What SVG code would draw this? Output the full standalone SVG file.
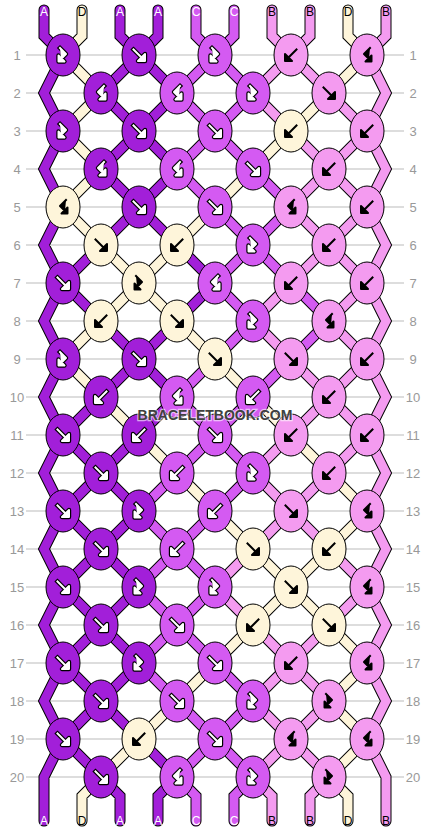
<svg xmlns="http://www.w3.org/2000/svg" xmlns:xlink="http://www.w3.org/1999/xlink" width="430" height="832" viewBox="0 0 430 832">
<style>
.sA{stroke:#a21fd9}.sB{stroke:#f49bf0}.sC{stroke:#d45af2}.sD{stroke:#fef5da}
#bands path{fill:none;stroke-width:9;stroke-linecap:round;stroke-linejoin:miter}
.outl{fill:none;stroke:#000;stroke-width:11;stroke-linecap:round;stroke-linejoin:miter}
ellipse{stroke:#000;stroke-width:1}
.kA{fill:#a21fd9}.kB{fill:#f49bf0}.kC{fill:#d45af2}.kD{fill:#fef5da}
.num{font-family:"Liberation Sans",Arial,sans-serif;font-size:13px;fill:#999;text-anchor:middle}
.lab{font-family:"Liberation Sans",Arial,sans-serif;font-size:12px;text-anchor:middle}
.lw{fill:#fff}.lk{fill:#000}
</style>
<defs>
<path id="f" d="M-5.5-5.5L2.5 2.5M6 6V-1L-1 6Z" stroke-linejoin="round" stroke-linecap="square"/>
<path id="b" d="M5.5-5.5L-2.5 2.5M-6 6V-1L1 6Z" stroke-linejoin="round" stroke-linecap="square"/>
<path id="fb" d="M-3-7L3-1L-2 4M-4.5 6.5V0.5L1.5 6.5Z" stroke-linejoin="round" stroke-linecap="square" fill-rule="nonzero"/>
<path id="bf" d="M3-7L-3-1L2 4M4.5 6.5V0.5L-1.5 6.5Z" stroke-linejoin="round" stroke-linecap="square"/>
<g id="fW"><use href="#f" fill="#000" stroke="#000" stroke-width="4.4"/><use href="#f" fill="#fff" stroke="#fff" stroke-width="2"/></g>
<g id="bW"><use href="#b" fill="#000" stroke="#000" stroke-width="4.4"/><use href="#b" fill="#fff" stroke="#fff" stroke-width="2"/></g>
<g id="fbW"><use href="#fb" fill="#000" stroke="#000" stroke-width="4.4"/><use href="#fb" fill="#fff" stroke="#fff" stroke-width="2"/></g>
<g id="bfW"><use href="#bf" fill="#000" stroke="#000" stroke-width="4.4"/><use href="#bf" fill="#fff" stroke="#fff" stroke-width="2"/></g>
<g id="fK"><use href="#f" fill="#000" stroke="#000" stroke-width="2"/></g>
<g id="bK"><use href="#b" fill="#000" stroke="#000" stroke-width="2"/></g>
<g id="fbK"><use href="#fb" fill="#000" stroke="#000" stroke-width="2"/></g>
<g id="bfK"><use href="#bf" fill="#000" stroke="#000" stroke-width="2"/></g>
</defs>
<rect width="430" height="832" fill="#fff"/>
<g id="grid" stroke="#bbb" stroke-width="1">
<path d="M26 55H404M26 93H404M26 131H404M26 169H404M26 207H404M26 245H404M26 283H404M26 321H404M26 359H404M26 397H404M26 435H404M26 473H404M26 511H404M26 549H404M26 587H404M26 625H404M26 663H404M26 701H404M26 739H404M26 777H404"/>
</g>
<g id="rownums" class="num">
<text x="17" y="59.5">1</text><text x="413" y="59.5">1</text>
<text x="17" y="97.5">2</text><text x="413" y="97.5">2</text>
<text x="17" y="135.5">3</text><text x="413" y="135.5">3</text>
<text x="17" y="173.5">4</text><text x="413" y="173.5">4</text>
<text x="17" y="211.5">5</text><text x="413" y="211.5">5</text>
<text x="17" y="249.5">6</text><text x="413" y="249.5">6</text>
<text x="17" y="287.5">7</text><text x="413" y="287.5">7</text>
<text x="17" y="325.5">8</text><text x="413" y="325.5">8</text>
<text x="17" y="363.5">9</text><text x="413" y="363.5">9</text>
<text x="17" y="401.5">10</text><text x="413" y="401.5">10</text>
<text x="17" y="439.5">11</text><text x="413" y="439.5">11</text>
<text x="17" y="477.5">12</text><text x="413" y="477.5">12</text>
<text x="17" y="515.5">13</text><text x="413" y="515.5">13</text>
<text x="17" y="553.5">14</text><text x="413" y="553.5">14</text>
<text x="17" y="591.5">15</text><text x="413" y="591.5">15</text>
<text x="17" y="629.5">16</text><text x="413" y="629.5">16</text>
<text x="17" y="667.5">17</text><text x="413" y="667.5">17</text>
<text x="17" y="705.5">18</text><text x="413" y="705.5">18</text>
<text x="17" y="743.5">19</text><text x="413" y="743.5">19</text>
<text x="17" y="781.5">20</text><text x="413" y="781.5">20</text>
</g>
<g id="connectors">
<path class="outl" d="M44 10V36L63 55L44 93L63 131L44 169L63 207L44 245L63 283L44 321L63 359L44 397L63 435L44 473L63 511L44 549L63 587L44 625L63 663L44 701L63 739L44 777V821M386 10V36L367 55L386 93L367 131L386 169L367 207L386 245L367 283L386 321L367 359L386 397L367 435L386 473L367 511L386 549L367 587L386 625L367 663L386 701L367 739L386 777V821M82 10V36L63 55M120 10V36L139 55M158 10V36L139 55M196 10V36L215 55M234 10V36L215 55M272 10V36L291 55M310 10V36L291 55M348 10V36L367 55M101 777L82 796V821M101 777L120 796V821M177 777L158 796V821M177 777L196 796V821M253 777L234 796V821M253 777L272 796V821M329 777L310 796V821M329 777L348 796V821M63 55L101 93L63 131L101 169L63 207L101 245L63 283L101 321L63 359L101 397L63 435L101 473L63 511L101 549L63 587L101 625L63 663L101 701L63 739L101 777M139 55L101 93L139 131L101 169L139 207L101 245L139 283L101 321L139 359L101 397L139 435L101 473L139 511L101 549L139 587L101 625L139 663L101 701L139 739L101 777M139 55L177 93L139 131L177 169L139 207L177 245L139 283L177 321L139 359L177 397L139 435L177 473L139 511L177 549L139 587L177 625L139 663L177 701L139 739L177 777M215 55L177 93L215 131L177 169L215 207L177 245L215 283L177 321L215 359L177 397L215 435L177 473L215 511L177 549L215 587L177 625L215 663L177 701L215 739L177 777M215 55L253 93L215 131L253 169L215 207L253 245L215 283L253 321L215 359L253 397L215 435L253 473L215 511L253 549L215 587L253 625L215 663L253 701L215 739L253 777M291 55L253 93L291 131L253 169L291 207L253 245L291 283L253 321L291 359L253 397L291 435L253 473L291 511L253 549L291 587L253 625L291 663L253 701L291 739L253 777M291 55L329 93L291 131L329 169L291 207L329 245L291 283L329 321L291 359L329 397L291 435L329 473L291 511L329 549L291 587L329 625L291 663L329 701L291 739L329 777M367 55L329 93L367 131L329 169L367 207L329 245L367 283L329 321L367 359L329 397L367 435L329 473L367 511L329 549L367 587L329 625L367 663L329 701L367 739L329 777"/>
<g id="bands">
<path class="sA" d="M44 10V36L63 55L44 93L63 131L44 169L63 207L44 245L63 283L44 321L63 359L44 397L63 435L44 473L63 511L44 549L63 587L44 625L63 663L44 701L63 739L44 777V821"/>
<path class="sB" d="M386 10V36L367 55L386 93L367 131L386 169L367 207L386 245L367 283L386 321L367 359L386 397L367 435L386 473L367 511L386 549L367 587L386 625L367 663L386 701L367 739L386 777V821"/>
<path class="sD" d="M82 10V36L63 55"/><path class="sA" d="M120 10V36L139 55"/><path class="sA" d="M158 10V36L139 55"/><path class="sC" d="M196 10V36L215 55"/><path class="sC" d="M234 10V36L215 55"/><path class="sB" d="M272 10V36L291 55"/><path class="sB" d="M310 10V36L291 55"/><path class="sD" d="M348 10V36L367 55"/>
<path class="sD" d="M63 55L101 93"/><path class="sA" d="M139 55L101 93"/><path class="sA" d="M139 55L177 93"/><path class="sC" d="M215 55L177 93"/><path class="sC" d="M215 55L253 93"/><path class="sB" d="M291 55L253 93"/><path class="sB" d="M291 55L329 93"/><path class="sD" d="M367 55L329 93"/>
<path class="sD" d="M101 93L63 131"/><path class="sA" d="M101 93L139 131"/><path class="sA" d="M177 93L139 131"/><path class="sC" d="M177 93L215 131"/><path class="sC" d="M253 93L215 131"/><path class="sB" d="M253 93L291 131"/><path class="sD" d="M329 93L291 131"/><path class="sB" d="M329 93L367 131"/>
<path class="sD" d="M63 131L101 169"/><path class="sA" d="M139 131L101 169"/><path class="sA" d="M139 131L177 169"/><path class="sC" d="M215 131L177 169"/><path class="sC" d="M215 131L253 169"/><path class="sD" d="M291 131L253 169"/><path class="sB" d="M291 131L329 169"/><path class="sB" d="M367 131L329 169"/>
<path class="sD" d="M101 169L63 207"/><path class="sA" d="M101 169L139 207"/><path class="sA" d="M177 169L139 207"/><path class="sC" d="M177 169L215 207"/><path class="sD" d="M253 169L215 207"/><path class="sC" d="M253 169L291 207"/><path class="sB" d="M329 169L291 207"/><path class="sB" d="M329 169L367 207"/>
<path class="sD" d="M63 207L101 245"/><path class="sA" d="M139 207L101 245"/><path class="sA" d="M139 207L177 245"/><path class="sD" d="M215 207L177 245"/><path class="sC" d="M215 207L253 245"/><path class="sC" d="M291 207L253 245"/><path class="sB" d="M291 207L329 245"/><path class="sB" d="M367 207L329 245"/>
<path class="sA" d="M101 245L63 283"/><path class="sD" d="M101 245L139 283"/><path class="sD" d="M177 245L139 283"/><path class="sA" d="M177 245L215 283"/><path class="sC" d="M253 245L215 283"/><path class="sC" d="M253 245L291 283"/><path class="sB" d="M329 245L291 283"/><path class="sB" d="M329 245L367 283"/>
<path class="sA" d="M63 283L101 321"/><path class="sD" d="M139 283L101 321"/><path class="sD" d="M139 283L177 321"/><path class="sA" d="M215 283L177 321"/><path class="sC" d="M215 283L253 321"/><path class="sB" d="M291 283L253 321"/><path class="sC" d="M291 283L329 321"/><path class="sB" d="M367 283L329 321"/>
<path class="sD" d="M101 321L63 359"/><path class="sA" d="M101 321L139 359"/><path class="sA" d="M177 321L139 359"/><path class="sD" d="M177 321L215 359"/><path class="sC" d="M253 321L215 359"/><path class="sB" d="M253 321L291 359"/><path class="sC" d="M329 321L291 359"/><path class="sB" d="M329 321L367 359"/>
<path class="sD" d="M63 359L101 397"/><path class="sA" d="M139 359L101 397"/><path class="sA" d="M139 359L177 397"/><path class="sC" d="M215 359L177 397"/><path class="sD" d="M215 359L253 397"/><path class="sC" d="M291 359L253 397"/><path class="sB" d="M291 359L329 397"/><path class="sB" d="M367 359L329 397"/>
<path class="sA" d="M101 397L63 435"/><path class="sD" d="M101 397L139 435"/><path class="sA" d="M177 397L139 435"/><path class="sC" d="M177 397L215 435"/><path class="sC" d="M253 397L215 435"/><path class="sD" d="M253 397L291 435"/><path class="sB" d="M329 397L291 435"/><path class="sB" d="M329 397L367 435"/>
<path class="sA" d="M63 435L101 473"/><path class="sA" d="M139 435L101 473"/><path class="sD" d="M139 435L177 473"/><path class="sC" d="M215 435L177 473"/><path class="sC" d="M215 435L253 473"/><path class="sB" d="M291 435L253 473"/><path class="sD" d="M291 435L329 473"/><path class="sB" d="M367 435L329 473"/>
<path class="sA" d="M101 473L63 511"/><path class="sA" d="M101 473L139 511"/><path class="sC" d="M177 473L139 511"/><path class="sD" d="M177 473L215 511"/><path class="sC" d="M253 473L215 511"/><path class="sB" d="M253 473L291 511"/><path class="sB" d="M329 473L291 511"/><path class="sD" d="M329 473L367 511"/>
<path class="sA" d="M63 511L101 549"/><path class="sA" d="M139 511L101 549"/><path class="sC" d="M139 511L177 549"/><path class="sC" d="M215 511L177 549"/><path class="sD" d="M215 511L253 549"/><path class="sB" d="M291 511L253 549"/><path class="sB" d="M291 511L329 549"/><path class="sD" d="M367 511L329 549"/>
<path class="sA" d="M101 549L63 587"/><path class="sA" d="M101 549L139 587"/><path class="sC" d="M177 549L139 587"/><path class="sC" d="M177 549L215 587"/><path class="sB" d="M253 549L215 587"/><path class="sD" d="M253 549L291 587"/><path class="sD" d="M329 549L291 587"/><path class="sB" d="M329 549L367 587"/>
<path class="sA" d="M63 587L101 625"/><path class="sA" d="M139 587L101 625"/><path class="sC" d="M139 587L177 625"/><path class="sC" d="M215 587L177 625"/><path class="sB" d="M215 587L253 625"/><path class="sD" d="M291 587L253 625"/><path class="sD" d="M291 587L329 625"/><path class="sB" d="M367 587L329 625"/>
<path class="sA" d="M101 625L63 663"/><path class="sA" d="M101 625L139 663"/><path class="sC" d="M177 625L139 663"/><path class="sC" d="M177 625L215 663"/><path class="sD" d="M253 625L215 663"/><path class="sB" d="M253 625L291 663"/><path class="sB" d="M329 625L291 663"/><path class="sD" d="M329 625L367 663"/>
<path class="sA" d="M63 663L101 701"/><path class="sA" d="M139 663L101 701"/><path class="sC" d="M139 663L177 701"/><path class="sD" d="M215 663L177 701"/><path class="sC" d="M215 663L253 701"/><path class="sB" d="M291 663L253 701"/><path class="sB" d="M291 663L329 701"/><path class="sD" d="M367 663L329 701"/>
<path class="sA" d="M101 701L63 739"/><path class="sA" d="M101 701L139 739"/><path class="sD" d="M177 701L139 739"/><path class="sC" d="M177 701L215 739"/><path class="sC" d="M253 701L215 739"/><path class="sB" d="M253 701L291 739"/><path class="sB" d="M329 701L291 739"/><path class="sD" d="M329 701L367 739"/>
<path class="sA" d="M63 739L101 777"/><path class="sD" d="M139 739L101 777"/><path class="sA" d="M139 739L177 777"/><path class="sC" d="M215 739L177 777"/><path class="sC" d="M215 739L253 777"/><path class="sB" d="M291 739L253 777"/><path class="sB" d="M291 739L329 777"/><path class="sD" d="M367 739L329 777"/>
<path class="sD" d="M101 777L82 796V821"/><path class="sA" d="M101 777L120 796V821"/><path class="sA" d="M177 777L158 796V821"/><path class="sC" d="M177 777L196 796V821"/><path class="sC" d="M253 777L234 796V821"/><path class="sB" d="M253 777L272 796V821"/><path class="sB" d="M329 777L310 796V821"/><path class="sD" d="M329 777L348 796V821"/>
</g>
</g>
<g id="labels" class="lab">
<text x="44" y="16" class="lw">A</text><text x="82" y="16" class="lk">D</text><text x="120" y="16" class="lw">A</text><text x="158" y="16" class="lw">A</text><text x="196" y="16" class="lw">C</text><text x="234" y="16" class="lw">C</text><text x="272" y="16" class="lk">B</text><text x="310" y="16" class="lk">B</text><text x="348" y="16" class="lk">D</text><text x="386" y="16" class="lk">B</text>
<text x="44" y="825" class="lw">A</text><text x="82" y="825" class="lk">D</text><text x="120" y="825" class="lw">A</text><text x="158" y="825" class="lw">A</text><text x="196" y="825" class="lw">C</text><text x="234" y="825" class="lw">C</text><text x="272" y="825" class="lk">B</text><text x="310" y="825" class="lk">B</text><text x="348" y="825" class="lk">D</text><text x="386" y="825" class="lk">B</text>
</g>
<g id="knots">
<g id="k1-1"><ellipse cx="63" cy="55" rx="17" ry="21" class="kA"/><use href="#fbW" x="63" y="55"/></g>
<g id="k1-2"><ellipse cx="139" cy="55" rx="17" ry="21" class="kA"/><use href="#fW" x="139" y="55"/></g>
<g id="k1-3"><ellipse cx="215" cy="55" rx="17" ry="21" class="kC"/><use href="#fbW" x="215" y="55"/></g>
<g id="k1-4"><ellipse cx="291" cy="55" rx="17" ry="21" class="kB"/><use href="#bK" x="291" y="55"/></g>
<g id="k1-5"><ellipse cx="367" cy="55" rx="17" ry="21" class="kB"/><use href="#bfK" x="367" y="55"/></g>
<g id="k2-1"><ellipse cx="101" cy="93" rx="17" ry="21" class="kA"/><use href="#bfW" x="101" y="93"/></g>
<g id="k2-2"><ellipse cx="177" cy="93" rx="17" ry="21" class="kC"/><use href="#bfW" x="177" y="93"/></g>
<g id="k2-3"><ellipse cx="253" cy="93" rx="17" ry="21" class="kC"/><use href="#fbW" x="253" y="93"/></g>
<g id="k2-4"><ellipse cx="329" cy="93" rx="17" ry="21" class="kB"/><use href="#fK" x="329" y="93"/></g>
<g id="k3-1"><ellipse cx="63" cy="131" rx="17" ry="21" class="kA"/><use href="#fbW" x="63" y="131"/></g>
<g id="k3-2"><ellipse cx="139" cy="131" rx="17" ry="21" class="kA"/><use href="#fW" x="139" y="131"/></g>
<g id="k3-3"><ellipse cx="215" cy="131" rx="17" ry="21" class="kC"/><use href="#fW" x="215" y="131"/></g>
<g id="k3-4"><ellipse cx="291" cy="131" rx="17" ry="21" class="kD"/><use href="#bK" x="291" y="131"/></g>
<g id="k3-5"><ellipse cx="367" cy="131" rx="17" ry="21" class="kB"/><use href="#bK" x="367" y="131"/></g>
<g id="k4-1"><ellipse cx="101" cy="169" rx="17" ry="21" class="kA"/><use href="#bfW" x="101" y="169"/></g>
<g id="k4-2"><ellipse cx="177" cy="169" rx="17" ry="21" class="kC"/><use href="#bfW" x="177" y="169"/></g>
<g id="k4-3"><ellipse cx="253" cy="169" rx="17" ry="21" class="kC"/><use href="#fW" x="253" y="169"/></g>
<g id="k4-4"><ellipse cx="329" cy="169" rx="17" ry="21" class="kB"/><use href="#bK" x="329" y="169"/></g>
<g id="k5-1"><ellipse cx="63" cy="207" rx="17" ry="21" class="kD"/><use href="#bfK" x="63" y="207"/></g>
<g id="k5-2"><ellipse cx="139" cy="207" rx="17" ry="21" class="kA"/><use href="#fW" x="139" y="207"/></g>
<g id="k5-3"><ellipse cx="215" cy="207" rx="17" ry="21" class="kC"/><use href="#fW" x="215" y="207"/></g>
<g id="k5-4"><ellipse cx="291" cy="207" rx="17" ry="21" class="kB"/><use href="#bfK" x="291" y="207"/></g>
<g id="k5-5"><ellipse cx="367" cy="207" rx="17" ry="21" class="kB"/><use href="#bK" x="367" y="207"/></g>
<g id="k6-1"><ellipse cx="101" cy="245" rx="17" ry="21" class="kD"/><use href="#fK" x="101" y="245"/></g>
<g id="k6-2"><ellipse cx="177" cy="245" rx="17" ry="21" class="kD"/><use href="#bK" x="177" y="245"/></g>
<g id="k6-3"><ellipse cx="253" cy="245" rx="17" ry="21" class="kC"/><use href="#fbW" x="253" y="245"/></g>
<g id="k6-4"><ellipse cx="329" cy="245" rx="17" ry="21" class="kB"/><use href="#bK" x="329" y="245"/></g>
<g id="k7-1"><ellipse cx="63" cy="283" rx="17" ry="21" class="kA"/><use href="#fW" x="63" y="283"/></g>
<g id="k7-2"><ellipse cx="139" cy="283" rx="17" ry="21" class="kD"/><use href="#fbK" x="139" y="283"/></g>
<g id="k7-3"><ellipse cx="215" cy="283" rx="17" ry="21" class="kC"/><use href="#bfW" x="215" y="283"/></g>
<g id="k7-4"><ellipse cx="291" cy="283" rx="17" ry="21" class="kB"/><use href="#bK" x="291" y="283"/></g>
<g id="k7-5"><ellipse cx="367" cy="283" rx="17" ry="21" class="kB"/><use href="#bK" x="367" y="283"/></g>
<g id="k8-1"><ellipse cx="101" cy="321" rx="17" ry="21" class="kD"/><use href="#bK" x="101" y="321"/></g>
<g id="k8-2"><ellipse cx="177" cy="321" rx="17" ry="21" class="kD"/><use href="#fK" x="177" y="321"/></g>
<g id="k8-3"><ellipse cx="253" cy="321" rx="17" ry="21" class="kC"/><use href="#fbW" x="253" y="321"/></g>
<g id="k8-4"><ellipse cx="329" cy="321" rx="17" ry="21" class="kB"/><use href="#bfK" x="329" y="321"/></g>
<g id="k9-1"><ellipse cx="63" cy="359" rx="17" ry="21" class="kA"/><use href="#fbW" x="63" y="359"/></g>
<g id="k9-2"><ellipse cx="139" cy="359" rx="17" ry="21" class="kA"/><use href="#fW" x="139" y="359"/></g>
<g id="k9-3"><ellipse cx="215" cy="359" rx="17" ry="21" class="kD"/><use href="#fK" x="215" y="359"/></g>
<g id="k9-4"><ellipse cx="291" cy="359" rx="17" ry="21" class="kB"/><use href="#fK" x="291" y="359"/></g>
<g id="k9-5"><ellipse cx="367" cy="359" rx="17" ry="21" class="kB"/><use href="#bK" x="367" y="359"/></g>
<g id="k10-1"><ellipse cx="101" cy="397" rx="17" ry="21" class="kA"/><use href="#bW" x="101" y="397"/></g>
<g id="k10-2"><ellipse cx="177" cy="397" rx="17" ry="21" class="kC"/><use href="#bfW" x="177" y="397"/></g>
<g id="k10-3"><ellipse cx="253" cy="397" rx="17" ry="21" class="kC"/><use href="#bW" x="253" y="397"/></g>
<g id="k10-4"><ellipse cx="329" cy="397" rx="17" ry="21" class="kB"/><use href="#bK" x="329" y="397"/></g>
<g id="k11-1"><ellipse cx="63" cy="435" rx="17" ry="21" class="kA"/><use href="#fW" x="63" y="435"/></g>
<g id="k11-2"><ellipse cx="139" cy="435" rx="17" ry="21" class="kA"/><use href="#bW" x="139" y="435"/></g>
<g id="k11-3"><ellipse cx="215" cy="435" rx="17" ry="21" class="kC"/><use href="#fW" x="215" y="435"/></g>
<g id="k11-4"><ellipse cx="291" cy="435" rx="17" ry="21" class="kB"/><use href="#bK" x="291" y="435"/></g>
<g id="k11-5"><ellipse cx="367" cy="435" rx="17" ry="21" class="kB"/><use href="#bK" x="367" y="435"/></g>
<g id="k12-1"><ellipse cx="101" cy="473" rx="17" ry="21" class="kA"/><use href="#fW" x="101" y="473"/></g>
<g id="k12-2"><ellipse cx="177" cy="473" rx="17" ry="21" class="kC"/><use href="#bW" x="177" y="473"/></g>
<g id="k12-3"><ellipse cx="253" cy="473" rx="17" ry="21" class="kC"/><use href="#fbW" x="253" y="473"/></g>
<g id="k12-4"><ellipse cx="329" cy="473" rx="17" ry="21" class="kB"/><use href="#bK" x="329" y="473"/></g>
<g id="k13-1"><ellipse cx="63" cy="511" rx="17" ry="21" class="kA"/><use href="#fW" x="63" y="511"/></g>
<g id="k13-2"><ellipse cx="139" cy="511" rx="17" ry="21" class="kA"/><use href="#fbW" x="139" y="511"/></g>
<g id="k13-3"><ellipse cx="215" cy="511" rx="17" ry="21" class="kC"/><use href="#bW" x="215" y="511"/></g>
<g id="k13-4"><ellipse cx="291" cy="511" rx="17" ry="21" class="kB"/><use href="#fK" x="291" y="511"/></g>
<g id="k13-5"><ellipse cx="367" cy="511" rx="17" ry="21" class="kB"/><use href="#bfK" x="367" y="511"/></g>
<g id="k14-1"><ellipse cx="101" cy="549" rx="17" ry="21" class="kA"/><use href="#fW" x="101" y="549"/></g>
<g id="k14-2"><ellipse cx="177" cy="549" rx="17" ry="21" class="kC"/><use href="#bW" x="177" y="549"/></g>
<g id="k14-3"><ellipse cx="253" cy="549" rx="17" ry="21" class="kD"/><use href="#fK" x="253" y="549"/></g>
<g id="k14-4"><ellipse cx="329" cy="549" rx="17" ry="21" class="kD"/><use href="#bK" x="329" y="549"/></g>
<g id="k15-1"><ellipse cx="63" cy="587" rx="17" ry="21" class="kA"/><use href="#fW" x="63" y="587"/></g>
<g id="k15-2"><ellipse cx="139" cy="587" rx="17" ry="21" class="kA"/><use href="#fbW" x="139" y="587"/></g>
<g id="k15-3"><ellipse cx="215" cy="587" rx="17" ry="21" class="kC"/><use href="#fbW" x="215" y="587"/></g>
<g id="k15-4"><ellipse cx="291" cy="587" rx="17" ry="21" class="kD"/><use href="#fK" x="291" y="587"/></g>
<g id="k15-5"><ellipse cx="367" cy="587" rx="17" ry="21" class="kB"/><use href="#bfK" x="367" y="587"/></g>
<g id="k16-1"><ellipse cx="101" cy="625" rx="17" ry="21" class="kA"/><use href="#fW" x="101" y="625"/></g>
<g id="k16-2"><ellipse cx="177" cy="625" rx="17" ry="21" class="kC"/><use href="#fW" x="177" y="625"/></g>
<g id="k16-3"><ellipse cx="253" cy="625" rx="17" ry="21" class="kD"/><use href="#bK" x="253" y="625"/></g>
<g id="k16-4"><ellipse cx="329" cy="625" rx="17" ry="21" class="kD"/><use href="#fK" x="329" y="625"/></g>
<g id="k17-1"><ellipse cx="63" cy="663" rx="17" ry="21" class="kA"/><use href="#fW" x="63" y="663"/></g>
<g id="k17-2"><ellipse cx="139" cy="663" rx="17" ry="21" class="kA"/><use href="#fbW" x="139" y="663"/></g>
<g id="k17-3"><ellipse cx="215" cy="663" rx="17" ry="21" class="kC"/><use href="#fW" x="215" y="663"/></g>
<g id="k17-4"><ellipse cx="291" cy="663" rx="17" ry="21" class="kB"/><use href="#bK" x="291" y="663"/></g>
<g id="k17-5"><ellipse cx="367" cy="663" rx="17" ry="21" class="kB"/><use href="#bfK" x="367" y="663"/></g>
<g id="k18-1"><ellipse cx="101" cy="701" rx="17" ry="21" class="kA"/><use href="#fW" x="101" y="701"/></g>
<g id="k18-2"><ellipse cx="177" cy="701" rx="17" ry="21" class="kC"/><use href="#fW" x="177" y="701"/></g>
<g id="k18-3"><ellipse cx="253" cy="701" rx="17" ry="21" class="kC"/><use href="#fbW" x="253" y="701"/></g>
<g id="k18-4"><ellipse cx="329" cy="701" rx="17" ry="21" class="kB"/><use href="#fbK" x="329" y="701"/></g>
<g id="k19-1"><ellipse cx="63" cy="739" rx="17" ry="21" class="kA"/><use href="#fW" x="63" y="739"/></g>
<g id="k19-2"><ellipse cx="139" cy="739" rx="17" ry="21" class="kD"/><use href="#bK" x="139" y="739"/></g>
<g id="k19-3"><ellipse cx="215" cy="739" rx="17" ry="21" class="kC"/><use href="#fW" x="215" y="739"/></g>
<g id="k19-4"><ellipse cx="291" cy="739" rx="17" ry="21" class="kB"/><use href="#bfK" x="291" y="739"/></g>
<g id="k19-5"><ellipse cx="367" cy="739" rx="17" ry="21" class="kB"/><use href="#bfK" x="367" y="739"/></g>
<g id="k20-1"><ellipse cx="101" cy="777" rx="17" ry="21" class="kA"/><use href="#fW" x="101" y="777"/></g>
<g id="k20-2"><ellipse cx="177" cy="777" rx="17" ry="21" class="kC"/><use href="#bfW" x="177" y="777"/></g>
<g id="k20-3"><ellipse cx="253" cy="777" rx="17" ry="21" class="kC"/><use href="#fbW" x="253" y="777"/></g>
<g id="k20-4"><ellipse cx="329" cy="777" rx="17" ry="21" class="kB"/><use href="#fbK" x="329" y="777"/></g>
</g>
<text id="watermark" x="215" y="420" font-family="'Liberation Sans',Arial,sans-serif" font-weight="bold" font-size="14" text-anchor="middle" fill="#404040" stroke="#ffffff" stroke-opacity="0.6" stroke-width="2.5" paint-order="stroke">BRACELETBOOK.COM</text>
</svg>
